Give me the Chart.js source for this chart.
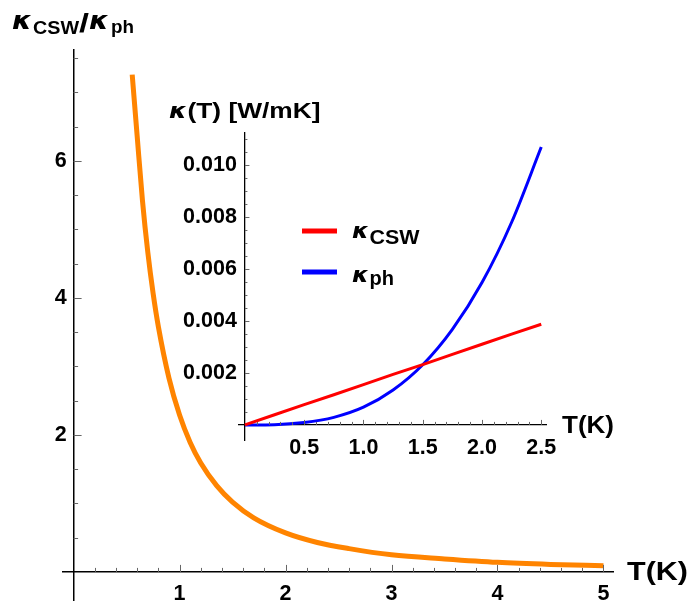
<!DOCTYPE html>
<html><head><meta charset="utf-8">
<script src="https://cdn.jsdelivr.net/npm/chart.js@4.4.1/dist/chart.umd.min.js"></script>
<style>
html,body{margin:0;padding:0;background:#fff;}
#wrap{position:relative;width:689px;height:604px;background:#fff;}
canvas{position:absolute;left:0;top:0;}
</style></head><body>
<div id="wrap"><canvas id="main" width="689" height="604"></canvas><canvas id="inset" width="689" height="604"></canvas></div>
<script>
// ---- data ----
const ratioT      = [0.553, 0.6, 0.65, 0.7, 0.75, 0.8, 0.9, 1.0, 1.1, 1.2, 1.35, 1.5, 1.7, 2.0, 2.3, 2.6, 3.0, 3.5, 4.0, 4.5, 5.0];
const ratioValues = [7.26, 6.36, 5.42, 4.67, 4.07, 3.58, 2.83, 2.29, 1.89, 1.59, 1.26, 1.02, 0.79, 0.57, 0.43, 0.34, 0.25, 0.19, 0.14, 0.11, 0.09];
const insetT   = [0, 0.25, 0.5, 0.75, 1.0, 1.25, 1.5, 1.75, 2.0, 2.25, 2.5];
const kappaCSW = [0, 0.00039, 0.00078, 0.00116, 0.00155, 0.00194, 0.00232, 0.00271, 0.0031, 0.00349, 0.00387];
const kappaPh  = [0, 0.00001, 0.00009, 0.00029, 0.00068, 0.00134, 0.00231, 0.00367, 0.00547, 0.00779, 0.01068];
const mainXTicks  = [1, 2, 3, 4, 5];
const mainYTicks  = [2, 4, 6];
const insetXTicks = [0.5, 1.0, 1.5, 2.0, 2.5];
const insetYTicks = [0.002, 0.004, 0.006, 0.008, 0.010];

const F = "'Liberation Sans', Arial, sans-serif";
const FK = "'DejaVu Sans', sans-serif";

function minorTicks(chart, xs, ys, o) {
  const ctx = chart.ctx;
  const x0 = xs.getPixelForValue(0), y0 = ys.getPixelForValue(0);
  ctx.save();
  ctx.strokeStyle = '#666';
  ctx.lineWidth = 1;
  ctx.beginPath();
  for (let i = 1; i * o.xStep <= o.xMax + 1e-9; i++) {
    const v = i * o.xStep;
    const major = Math.abs(v / o.xMajor - Math.round(v / o.xMajor)) < 1e-6;
    const px = Math.round(xs.getPixelForValue(v)) + 0.5;
    ctx.moveTo(px, y0);
    ctx.lineTo(px, y0 - (major ? o.xMajLen : o.xMinLen));
  }
  for (let i = 1; i * o.yStep <= o.yMax + 1e-12; i++) {
    const v = i * o.yStep;
    const major = Math.abs(v / o.yMajor - Math.round(v / o.yMajor)) < 1e-6;
    const py = Math.round(ys.getPixelForValue(v)) + 0.5;
    ctx.moveTo(x0, py);
    ctx.lineTo(x0 + (major ? o.yMajLen : o.yMinLen), py);
  }
  ctx.stroke();
  ctx.restore();
}

// draw text fitted horizontally to a target advance width
function txt(ctx, s, x, y, font, w) {
  ctx.save();
  ctx.font = font;
  const sx = w ? w / ctx.measureText(s).width : 1;
  ctx.translate(x, y);
  ctx.scale(sx, 1);
  ctx.fillText(s, 0, 0);
  ctx.restore();
}

function shiftYLabels(gap) {
  return {
    id: 'shiftY',
    beforeDraw(chart) {
      const s = chart.scales.y;
      const items = s.getLabelItems(chart.chartArea);
      items.forEach(it => {
        if (it._shifted) return;
        if (it.options && it.options.translation) it.options.translation[0] -= gap;
        else if (it.translation) it.translation[0] -= gap;
        it._shifted = true;
      });
    }
  };
}

const mainDecor = {
  id: 'mainDecor',
  afterDatasetsDraw(chart) {
    minorTicks(chart, chart.scales.x, chart.scales.y,
      {xStep: 0.2, xMajor: 1, xMax: 5, xMajLen: 7, xMinLen: 4,
       yStep: 0.5, yMajor: 2, yMax: 7.5, yMajLen: 8, yMinLen: 4.5});
  },
  afterDraw(chart) {
    const ctx = chart.ctx;
    ctx.save();
    ctx.fillStyle = '#000';
    ctx.textAlign = 'left';
    ctx.textBaseline = 'alphabetic';
    txt(ctx, '\u03BA', 12, 29, "italic bold 25px " + FK, 20);
    txt(ctx, 'CSW', 33, 33.5, "bold 19px " + F, 46);
    txt(ctx, '/', 79, 32, "bold 25px " + F, 10);
    txt(ctx, '\u03BA', 89, 29, "italic bold 25px " + FK, 20);
    txt(ctx, 'ph', 111, 32.5, "bold 18.5px " + F, 23);
    txt(ctx, 'T(K)', 627, 580, "bold 26.5px " + F, 61);
    ctx.restore();
  }
};

const insetDecor = {
  id: 'insetDecor',
  afterDatasetsDraw(chart) {
    minorTicks(chart, chart.scales.x, chart.scales.y,
      {xStep: 0.1, xMajor: 0.5, xMax: 2.5, xMajLen: 5, xMinLen: 3,
       yStep: 0.0005, yMajor: 0.002, yMax: 0.011, yMajLen: 4.5, yMinLen: 2.5});
  },
  afterDraw(chart) {
    const ctx = chart.ctx;
    ctx.save();
    ctx.fillStyle = '#000';
    ctx.textAlign = 'left';
    ctx.textBaseline = 'alphabetic';
    txt(ctx, '\u03BA', 169, 117.5, "italic bold 21px " + FK, 18);
    txt(ctx, '(T) [W/mK]', 187.5, 117.5, "bold 22px " + F, 133);
    // legend
    ctx.lineWidth = 5;
    ctx.strokeStyle = '#FF0000';
    ctx.beginPath(); ctx.moveTo(302, 231); ctx.lineTo(337, 231); ctx.stroke();
    ctx.strokeStyle = '#0000FF';
    ctx.beginPath(); ctx.moveTo(302, 272); ctx.lineTo(337, 272); ctx.stroke();
    txt(ctx, '\u03BA', 352, 238, "italic bold 22px " + FK, 17);
    txt(ctx, 'CSW', 369.5, 243.5, "bold 21px " + F, 50);
    txt(ctx, '\u03BA', 352, 281.5, "italic bold 22px " + FK, 17);
    txt(ctx, 'ph', 369.5, 285, "bold 19.5px " + F, 24.5);
    txt(ctx, 'T(K)', 562, 433, "bold 23px " + F, 52);
    ctx.restore();
  }
};

function axisOpts(min, max, posObj, ticksArr, fmt, pad, bw) {
  return {
    type: 'linear', min: min, max: max, position: posObj,
    grid: {display: false, drawTicks: false},
    border: {display: true, color: '#000', width: bw},
    afterBuildTicks: s => { s.ticks = ticksArr.map(v => ({value: v})); },
    ticks: {padding: pad, color: '#000', font: {family: F, size: 21.5, weight: 'bold', lineHeight: 1.2},
            maxRotation: 0, autoSkip: false, callback: fmt}
  };
}

const mainY = axisOpts(-0.41, 7.62, {x: 0}, mainYTicks, v => String(v), 0, 1.5);
mainY.ticks.font.lineHeight = 0.2;

new Chart(document.getElementById('main'), {
  type: 'line',
  data: {datasets: [{
    data: ratioT.map((t, i) => ({x: t, y: ratioValues[i]})),
    borderColor: '#FF8400', borderWidth: 5, pointRadius: 0, fill: false,
    cubicInterpolationMode: 'monotone'
  }]},
  options: {
    responsive: false, animation: false, devicePixelRatio: 1,
    layout: {padding: {left: 63, right: 76, top: 50, bottom: 4}, autoPadding: false},
    plugins: {legend: {display: false}, tooltip: {enabled: false}},
    scales: {
      x: axisOpts(-0.1, 5.09, {y: 0}, mainXTicks, v => String(v), 9, 1.5),
      y: mainY
    }
  },
  plugins: [mainDecor, shiftYLabels(7)]
});

new Chart(document.getElementById('inset'), {
  type: 'line',
  data: {datasets: [
    {data: insetT.map((t, i) => ({x: t, y: kappaCSW[i]})), borderColor: '#FF0000', borderWidth: 3, pointRadius: 0, fill: false},
    {data: insetT.map((t, i) => ({x: t, y: kappaPh[i]})), borderColor: '#0000FF', borderWidth: 3, pointRadius: 0, fill: false, cubicInterpolationMode: 'monotone'}
  ]},
  options: {
    responsive: false, animation: false, devicePixelRatio: 1,
    layout: {padding: {left: 239, right: 143, top: 133, bottom: 164}, autoPadding: false},
    plugins: {legend: {display: false}, tooltip: {enabled: false}},
    scales: {
      x: axisOpts(-0.05, 2.54, {y: 0}, insetXTicks, v => v.toFixed(1), 10, 1.3),
      y: axisOpts(-0.00058, 0.01122, {x: 0}, insetYTicks, v => v.toFixed(3), 0, 1.3)
    }
  },
  plugins: [insetDecor, shiftYLabels(8)]
});
</script>
</body></html>
